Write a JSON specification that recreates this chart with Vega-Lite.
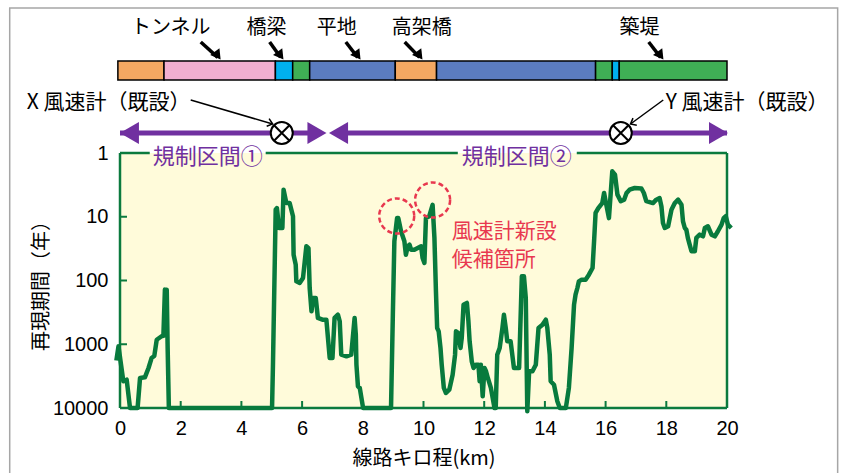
{
  "$schema": "https://vega.github.io/schema/vega-lite/v6.json",
  "width": 607,
  "height": 255,
  "autosize": {"type": "none"},
  "padding": {"left": 120, "top": 153, "right": 118, "bottom": 65},
  "background": "white",
  "config": {
    "view": {"stroke": null},
    "font": "Noto Sans CJK JP",
    "axis": {
      "domain": false, "ticks": false, "grid": false,
      "labelFont": "Liberation Sans", "labelFontSize": 20, "labelColor": "black",
      "titleFont": "Noto Sans CJK JP", "titleFontSize": 20, "titleFontWeight": "normal", "titleColor": "black"
    }
  },
  "datasets": {
    "profile": [
      {"km": -0.12, "rp": 1800}, {"km": -0.05, "rp": 1080}, {"km": 0.11, "rp": 3810}, {"km": 0.22, "rp": 3600},
      {"km": 0.33, "rp": 10000}, {"km": 0.58, "rp": 10000}, {"km": 0.66, "rp": 3380}, {"km": 0.82, "rp": 3300},
      {"km": 0.94, "rp": 2360}, {"km": 1.04, "rp": 1645}, {"km": 1.13, "rp": 1530}, {"km": 1.21, "rp": 849},
      {"km": 1.37, "rp": 750}, {"km": 1.43, "rp": 740}, {"km": 1.48, "rp": 139}, {"km": 1.54, "rp": 140},
      {"km": 1.57, "rp": 1145}, {"km": 1.61, "rp": 10000}, {"km": 5.01, "rp": 10000}, {"km": 5.04, "rp": 2094},
      {"km": 5.10, "rp": 50}, {"km": 5.13, "rp": 7.75}, {"km": 5.17, "rp": 7.3}, {"km": 5.24, "rp": 15},
      {"km": 5.35, "rp": 15}, {"km": 5.39, "rp": 3.76}, {"km": 5.48, "rp": 6.1}, {"km": 5.59, "rp": 6.1},
      {"km": 5.70, "rp": 9.8}, {"km": 5.72, "rp": 39.4}, {"km": 5.79, "rp": 56.5}, {"km": 5.81, "rp": 103},
      {"km": 5.92, "rp": 109}, {"km": 6.03, "rp": 91}, {"km": 6.14, "rp": 29}, {"km": 6.21, "rp": 31},
      {"km": 6.25, "rp": 131}, {"km": 6.31, "rp": 304}, {"km": 6.36, "rp": 188}, {"km": 6.45, "rp": 188},
      {"km": 6.52, "rp": 387}, {"km": 6.67, "rp": 412}, {"km": 6.80, "rp": 412}, {"km": 6.91, "rp": 1644},
      {"km": 7.00, "rp": 1644}, {"km": 7.07, "rp": 387}, {"km": 7.18, "rp": 344}, {"km": 7.24, "rp": 436},
      {"km": 7.29, "rp": 1459}, {"km": 7.46, "rp": 1545}, {"km": 7.62, "rp": 1459}, {"km": 7.73, "rp": 387},
      {"km": 7.77, "rp": 708}, {"km": 7.79, "rp": 2094}, {"km": 7.84, "rp": 4570}, {"km": 7.90, "rp": 4850},
      {"km": 8.01, "rp": 10000}, {"km": 8.93, "rp": 10000}, {"km": 8.99, "rp": 344}, {"km": 9.04, "rp": 24.3},
      {"km": 9.13, "rp": 10.5}, {"km": 9.17, "rp": 10.5}, {"km": 9.26, "rp": 16.9}, {"km": 9.37, "rp": 24.3},
      {"km": 9.42, "rp": 39.4}, {"km": 9.48, "rp": 29.1}, {"km": 9.54, "rp": 27.4}, {"km": 9.59, "rp": 32.9},
      {"km": 9.70, "rp": 32.9}, {"km": 9.81, "rp": 30.9}, {"km": 9.92, "rp": 29.1}, {"km": 9.97, "rp": 44.4},
      {"km": 10.03, "rp": 53}, {"km": 10.08, "rp": 10.5}, {"km": 10.19, "rp": 9.8}, {"km": 10.30, "rp": 6.5},
      {"km": 10.36, "rp": 21.5}, {"km": 10.41, "rp": 148}, {"km": 10.45, "rp": 556}, {"km": 10.50, "rp": 627},
      {"km": 10.56, "rp": 1145}, {"km": 10.60, "rp": 2094}, {"km": 10.67, "rp": 4850}, {"km": 10.74, "rp": 5820},
      {"km": 10.85, "rp": 5160}, {"km": 10.96, "rp": 3000}, {"km": 11.04, "rp": 1459}, {"km": 11.07, "rp": 627},
      {"km": 11.15, "rp": 666}, {"km": 11.22, "rp": 1145}, {"km": 11.26, "rp": 798}, {"km": 11.32, "rp": 240},
      {"km": 11.43, "rp": 225}, {"km": 11.48, "rp": 436}, {"km": 11.52, "rp": 899}, {"km": 11.59, "rp": 1852},
      {"km": 11.65, "rp": 2360}, {"km": 11.73, "rp": 2094}, {"km": 11.81, "rp": 2094}, {"km": 11.85, "rp": 3810},
      {"km": 11.89, "rp": 2094}, {"km": 11.95, "rp": 6550}, {"km": 12.01, "rp": 2360}, {"km": 12.06, "rp": 2655},
      {"km": 12.12, "rp": 3380}, {"km": 12.22, "rp": 4850}, {"km": 12.34, "rp": 10000}, {"km": 12.38, "rp": 10000},
      {"km": 12.43, "rp": 1459}, {"km": 12.51, "rp": 1145}, {"km": 12.60, "rp": 556}, {"km": 12.65, "rp": 344},
      {"km": 12.71, "rp": 556}, {"km": 12.76, "rp": 899}, {"km": 12.87, "rp": 899}, {"km": 12.98, "rp": 2360},
      {"km": 13.15, "rp": 2360}, {"km": 13.24, "rp": 86}, {"km": 13.31, "rp": 86}, {"km": 13.37, "rp": 188},
      {"km": 13.42, "rp": 11270}, {"km": 13.48, "rp": 2655}, {"km": 13.59, "rp": 2655}, {"km": 13.70, "rp": 2094},
      {"km": 13.79, "rp": 556}, {"km": 13.92, "rp": 494}, {"km": 14.03, "rp": 412}, {"km": 14.08, "rp": 556},
      {"km": 14.16, "rp": 1459}, {"km": 14.19, "rp": 3810}, {"km": 14.30, "rp": 4310}, {"km": 14.41, "rp": 7850},
      {"km": 14.49, "rp": 10000}, {"km": 14.69, "rp": 10000}, {"km": 14.79, "rp": 4850}, {"km": 14.88, "rp": 1145},
      {"km": 14.96, "rp": 240}, {"km": 15.01, "rp": 167}, {"km": 15.07, "rp": 131}, {"km": 15.12, "rp": 103},
      {"km": 15.21, "rp": 97}, {"km": 15.34, "rp": 97}, {"km": 15.45, "rp": 81}, {"km": 15.57, "rp": 63.7},
      {"km": 15.62, "rp": 24.3}, {"km": 15.67, "rp": 8.7}, {"km": 15.76, "rp": 7.3}, {"km": 15.89, "rp": 6.1},
      {"km": 15.95, "rp": 4.24}, {"km": 16.00, "rp": 5.7}, {"km": 16.11, "rp": 10.5}, {"km": 16.22, "rp": 1.94},
      {"km": 16.31, "rp": 2.19}, {"km": 16.39, "rp": 4.5}, {"km": 16.50, "rp": 5.7}, {"km": 16.61, "rp": 5.4},
      {"km": 16.69, "rp": 4.24}, {"km": 16.79, "rp": 3.76}, {"km": 16.96, "rp": 3.54}, {"km": 17.18, "rp": 3.6},
      {"km": 17.26, "rp": 4.24}, {"km": 17.34, "rp": 5.7}, {"km": 17.56, "rp": 6.1}, {"km": 17.67, "rp": 5.4},
      {"km": 17.78, "rp": 5.1}, {"km": 17.84, "rp": 6.9}, {"km": 17.89, "rp": 12.5}, {"km": 17.95, "rp": 15},
      {"km": 18.06, "rp": 14.1}, {"km": 18.17, "rp": 7.75}, {"km": 18.28, "rp": 6.1}, {"km": 18.39, "rp": 5.4},
      {"km": 18.50, "rp": 6.5}, {"km": 18.55, "rp": 11.8}, {"km": 18.61, "rp": 15}, {"km": 18.66, "rp": 16},
      {"km": 18.71, "rp": 21.5}, {"km": 18.77, "rp": 27.4}, {"km": 18.83, "rp": 34.8}, {"km": 18.94, "rp": 34.8},
      {"km": 18.99, "rp": 21.5}, {"km": 19.10, "rp": 19.1}, {"km": 19.21, "rp": 20.3}, {"km": 19.27, "rp": 15},
      {"km": 19.37, "rp": 14.1}, {"km": 19.49, "rp": 19.1}, {"km": 19.60, "rp": 20.3}, {"km": 19.70, "rp": 16.9},
      {"km": 19.82, "rp": 13.3}, {"km": 19.89, "rp": 10.5}, {"km": 19.96, "rp": 9.8}, {"km": 20.03, "rp": 13.3},
      {"km": 20.14, "rp": 15}
    ],
    "segments": [
      {"type": "高架橋", "km": -0.07, "km2": 1.45},
      {"type": "トンネル", "km": 1.45, "km2": 5.12},
      {"type": "橋梁", "km": 5.12, "km2": 5.69},
      {"type": "築堤", "km": 5.69, "km2": 6.25},
      {"type": "平地", "km": 6.25, "km2": 9.07},
      {"type": "高架橋", "km": 9.07, "km2": 10.43},
      {"type": "平地", "km": 10.43, "km2": 15.67},
      {"type": "築堤", "km": 15.67, "km2": 16.22},
      {"type": "橋梁", "km": 16.22, "km2": 16.45},
      {"type": "築堤", "km": 16.45, "km2": 20.0}
    ],
    "segLabels": [
      {"label": "トンネル", "km": 1.67, "km2": 2.66, "km3": 3.22},
      {"label": "橋梁", "km": 4.83, "km2": 4.93, "km3": 5.29},
      {"label": "平地", "km": 7.14, "km2": 7.44, "km3": 7.83},
      {"label": "高架橋", "km": 9.94, "km2": 9.38, "km3": 9.87},
      {"label": "築堤", "km": 17.12, "km2": 17.42, "km3": 17.81}
    ],
    "meters": [
      {"label": "X 風速計（既設）", "km": -3.07, "km2": 2.33, "km3": 5.03, "angle": 17.6},
      {"label": "Y 風速計（既設）", "km": 17.98, "km2": 17.9, "km3": 16.82, "angle": 151.8}
    ]
  },
  "layer": [
    {
      "data": {"values": [{}]},
      "mark": {"type": "rect", "filled": false, "stroke": "#a6a6a6", "strokeWidth": 1.5},
      "encoding": {
        "x": {"datum": -3.634, "type": "quantitative", "scale": {"domain": [0, 20], "nice": false, "zero": false}},
        "x2": {"datum": 23.646},
        "y": {"datum": 0.00531, "type": "quantitative", "scale": {"type": "log", "domain": [1, 10000], "reverse": true, "nice": false}},
        "y2": {"datum": 1000000}
      }
    },
    {
      "data": {"values": [{}]},
      "mark": {"type": "rect", "fill": "#FFFBDA"},
      "encoding": {
        "x": {"datum": 0, "type": "quantitative", "scale": {"domain": [0, 20], "nice": false, "zero": false}},
        "x2": {"datum": 20},
        "y": {"datum": 1, "type": "quantitative", "scale": {"type": "log", "domain": [1, 10000], "reverse": true, "nice": false}},
        "y2": {"datum": 10000}
      }
    },
    {
      "data": {"name": "segments"},
      "mark": {"type": "rect", "stroke": "black", "strokeWidth": 1.5},
      "encoding": {
        "x": {"field": "km", "type": "quantitative", "scale": {"domain": [0, 20], "nice": false, "zero": false}},
        "x2": {"field": "km2"},
        "y": {"datum": 0.03605, "type": "quantitative", "scale": {"type": "log", "domain": [1, 10000], "reverse": true, "nice": false}},
        "y2": {"datum": 0.0716},
        "color": {"field": "type", "type": "nominal", "legend": null,
          "scale": {"domain": ["トンネル", "橋梁", "平地", "高架橋", "築堤"],
                    "range": ["#F2AFD0", "#00B0EE", "#5B7CC0", "#F4A862", "#3FAF55"]}}
      }
    },
    {
      "data": {"name": "segLabels"},
      "mark": {"type": "text", "fontSize": 20, "font": "Noto Sans CJK JP", "color": "black", "baseline": "middle"},
      "encoding": {
        "x": {"field": "km", "type": "quantitative", "scale": {"domain": [0, 20], "nice": false, "zero": false}},
        "y": {"datum": 0.01094, "type": "quantitative", "scale": {"type": "log", "domain": [1, 10000], "reverse": true, "nice": false}},
        "text": {"field": "label"}
      }
    },
    {
      "data": {"name": "segLabels"},
      "mark": {"type": "rule", "color": "black", "strokeWidth": 3.5},
      "encoding": {
        "x": {"field": "km2", "type": "quantitative", "scale": {"domain": [0, 20], "nice": false, "zero": false}},
        "x2": {"field": "km3"},
        "y": {"datum": 0.01815, "type": "quantitative", "scale": {"type": "log", "domain": [1, 10000], "reverse": true, "nice": false}},
        "y2": {"datum": 0.0316}
      }
    },
    {
      "data": {"name": "segLabels"},
      "mark": {"type": "point", "shape": "triangle-down", "filled": true, "color": "black", "size": 130, "angle": 324, "opacity": 1},
      "encoding": {
        "x": {"field": "km3", "type": "quantitative", "scale": {"domain": [0, 20], "nice": false, "zero": false}},
        "y": {"datum": 0.0296, "type": "quantitative", "scale": {"type": "log", "domain": [1, 10000], "reverse": true, "nice": false}}
      }
    },
    {
      "data": {"name": "meters"},
      "mark": {"type": "text", "fontSize": 21, "font": "Noto Sans CJK JP", "color": "black", "align": "left", "baseline": "middle"},
      "encoding": {
        "x": {"field": "km", "type": "quantitative", "scale": {"domain": [0, 20], "nice": false, "zero": false}},
        "y": {"datum": 0.1644, "type": "quantitative", "scale": {"type": "log", "domain": [1, 10000], "reverse": true, "nice": false}},
        "text": {"field": "label"}
      }
    },
    {
      "data": {"name": "meters"},
      "mark": {"type": "rule", "color": "black", "strokeWidth": 1.5},
      "encoding": {
        "x": {"field": "km2", "type": "quantitative", "scale": {"domain": [0, 20], "nice": false, "zero": false}},
        "x2": {"field": "km3"},
        "y": {"datum": 0.1475, "type": "quantitative", "scale": {"type": "log", "domain": [1, 10000], "reverse": true, "nice": false}},
        "y2": {"datum": 0.3508}
      }
    },
    {
      "data": {"name": "meters"},
      "mark": {"type": "point", "shape": "M-1,-0.8L0,0L-1,0.8", "filled": false, "stroke": "black", "strokeWidth": 1.5, "size": 100, "opacity": 1},
      "encoding": {
        "x": {"field": "km3", "type": "quantitative", "scale": {"domain": [0, 20], "nice": false, "zero": false}},
        "y": {"datum": 0.3508, "type": "quantitative", "scale": {"type": "log", "domain": [1, 10000], "reverse": true, "nice": false}},
        "angle": {"field": "angle", "type": "quantitative", "scale": null}
      }
    },
    {
      "data": {"values": [{"km": 0.0, "km2": 6.6}, {"km": 7.1, "km2": 20.0}]},
      "mark": {"type": "rule", "color": "#7030A0", "strokeWidth": 5},
      "encoding": {
        "x": {"field": "km", "type": "quantitative", "scale": {"domain": [0, 20], "nice": false, "zero": false}},
        "x2": {"field": "km2"},
        "y": {"datum": 0.4856, "type": "quantitative", "scale": {"type": "log", "domain": [1, 10000], "reverse": true, "nice": false}}
      }
    },
    {
      "data": {"values": [{"km": 0.31, "dir": "L"}, {"km": 6.49, "dir": "R"}, {"km": 7.2, "dir": "L"}, {"km": 19.72, "dir": "R"}]},
      "mark": {"type": "point", "filled": true, "color": "#7030A0", "size": 484, "opacity": 1},
      "encoding": {
        "x": {"field": "km", "type": "quantitative", "scale": {"domain": [0, 20], "nice": false, "zero": false}},
        "y": {"datum": 0.4856, "type": "quantitative", "scale": {"type": "log", "domain": [1, 10000], "reverse": true, "nice": false}},
        "shape": {"field": "dir", "type": "nominal", "legend": null,
          "scale": {"domain": ["L", "R"], "range": ["triangle-left", "triangle-right"]}}
      }
    },
    {
      "data": {"values": [{"km": 5.33}, {"km": 16.5}]},
      "mark": {"type": "point", "shape": "circle", "filled": true, "fill": "white", "stroke": "black", "strokeWidth": 2, "size": 484, "opacity": 1},
      "encoding": {
        "x": {"field": "km", "type": "quantitative", "scale": {"domain": [0, 20], "nice": false, "zero": false}},
        "y": {"datum": 0.4856, "type": "quantitative", "scale": {"type": "log", "domain": [1, 10000], "reverse": true, "nice": false}}
      }
    },
    {
      "data": {"values": [{"km": 5.33}, {"km": 16.5}]},
      "mark": {"type": "point", "shape": "M-0.7,-0.7L0.7,0.7M-0.7,0.7L0.7,-0.7", "filled": false, "stroke": "black", "strokeWidth": 2, "size": 484, "opacity": 1},
      "encoding": {
        "x": {"field": "km", "type": "quantitative", "scale": {"domain": [0, 20], "nice": false, "zero": false}},
        "y": {"datum": 0.4856, "type": "quantitative", "scale": {"type": "log", "domain": [1, 10000], "reverse": true, "nice": false}}
      }
    },
    {
      "data": {"values": [{"km": 0}, {"km": 20}]},
      "mark": {"type": "rule", "color": "#0B7A3E", "strokeWidth": 2.5},
      "encoding": {
        "x": {"field": "km", "type": "quantitative", "scale": {"domain": [0, 20], "nice": false, "zero": false}},
        "y": {"datum": 1, "type": "quantitative", "scale": {"type": "log", "domain": [1, 10000], "reverse": true, "nice": false}},
        "y2": {"datum": 10000}
      }
    },
    {
      "data": {"values": [{"km": 0, "km2": 20}]},
      "mark": {"type": "rule", "color": "#0B7A3E", "strokeWidth": 2.5},
      "encoding": {
        "x": {"field": "km", "type": "quantitative", "scale": {"domain": [0, 20], "nice": false, "zero": false}},
        "x2": {"field": "km2"},
        "y": {"datum": 10000, "type": "quantitative", "scale": {"type": "log", "domain": [1, 10000], "reverse": true, "nice": false}}
      }
    },
    {
      "data": {"values": [{"km": 0, "km2": 0.98}, {"km": 4.8, "km2": 11.13}, {"km": 15.05, "km2": 20}]},
      "mark": {"type": "rule", "color": "#0B7A3E", "strokeWidth": 2.5},
      "encoding": {
        "x": {"field": "km", "type": "quantitative", "scale": {"domain": [0, 20], "nice": false, "zero": false}},
        "x2": {"field": "km2"},
        "y": {"datum": 1, "type": "quantitative", "scale": {"type": "log", "domain": [1, 10000], "reverse": true, "nice": false}}
      }
    },
    {
      "data": {"values": [{"km": 2}, {"km": 4}, {"km": 6}, {"km": 8}, {"km": 10}, {"km": 12}, {"km": 14}, {"km": 16}, {"km": 18}]},
      "mark": {"type": "rule", "color": "#0B7A3E", "strokeWidth": 2},
      "encoding": {
        "x": {"field": "km", "type": "quantitative", "scale": {"domain": [0, 20], "nice": false, "zero": false}},
        "y": {"datum": 10000, "type": "quantitative", "scale": {"type": "log", "domain": [1, 10000], "reverse": true, "nice": false}},
        "y2": {"datum": 7762}
      }
    },
    {
      "data": {"values": [{"rp": 10}, {"rp": 100}, {"rp": 1000}]},
      "mark": {"type": "rule", "color": "#0B7A3E", "strokeWidth": 2},
      "encoding": {
        "x": {"datum": 0, "type": "quantitative", "scale": {"domain": [0, 20], "nice": false, "zero": false}},
        "x2": {"datum": 0.23},
        "y": {"field": "rp", "type": "quantitative", "scale": {"type": "log", "domain": [1, 10000], "reverse": true, "nice": false}}
      }
    },
    {
      "data": {"name": "profile"},
      "mark": {"type": "line", "color": "#087A3D", "strokeWidth": 4.5, "strokeJoin": "round", "strokeCap": "butt"},
      "encoding": {
        "x": {
          "field": "km", "type": "quantitative",
          "scale": {"domain": [0, 20], "nice": false, "zero": false},
          "axis": {
            "values": [0, 2, 4, 6, 8, 10, 12, 14, 16, 18, 20], "format": "d",
            "title": "線路キロ程(km)", "labelPadding": 10, "labelFlush": false, "titlePadding": 10
          }
        },
        "y": {
          "field": "rp", "type": "quantitative",
          "scale": {"type": "log", "domain": [1, 10000], "reverse": true, "nice": false},
          "axis": {
            "values": [1, 10, 100, 1000, 10000], "format": "d",
            "title": "再現期間（年）", "labelPadding": 12, "titlePadding": 1
          }
        },
        "order": {"field": "km", "type": "quantitative"}
      }
    },
    {
      "data": {"values": [{"label": "規制区間①", "km": 2.89}, {"label": "規制区間②", "km": 13.07}]},
      "mark": {"type": "text", "fontSize": 22, "font": "Noto Sans CJK JP", "color": "#7030A0", "baseline": "middle"},
      "encoding": {
        "x": {"field": "km", "type": "quantitative", "scale": {"domain": [0, 20], "nice": false, "zero": false}},
        "y": {"datum": 1.155, "type": "quantitative", "scale": {"type": "log", "domain": [1, 10000], "reverse": true, "nice": false}},
        "text": {"field": "label"}
      }
    },
    {
      "data": {"values": [{"km": 9.117, "rp": 9.73}, {"km": 10.30, "rp": 5.46}]},
      "mark": {"type": "point", "shape": "circle", "filled": false, "stroke": "#E8384F", "strokeWidth": 2.5, "strokeDash": [5, 3], "size": 1225, "opacity": 1},
      "encoding": {
        "x": {"field": "km", "type": "quantitative", "scale": {"domain": [0, 20], "nice": false, "zero": false}},
        "y": {"field": "rp", "type": "quantitative", "scale": {"type": "log", "domain": [1, 10000], "reverse": true, "nice": false}}
      }
    },
    {
      "data": {"values": [{"label": "風速計新設", "km": 10.93, "rp": 17.3}, {"label": "候補箇所", "km": 10.93, "rp": 48}]},
      "mark": {"type": "text", "fontSize": 21, "font": "Noto Sans CJK JP", "color": "#E8384F", "align": "left", "baseline": "middle"},
      "encoding": {
        "x": {"field": "km", "type": "quantitative", "scale": {"domain": [0, 20], "nice": false, "zero": false}},
        "y": {"field": "rp", "type": "quantitative", "scale": {"type": "log", "domain": [1, 10000], "reverse": true, "nice": false}},
        "text": {"field": "label"}
      }
    }
  ]
}
